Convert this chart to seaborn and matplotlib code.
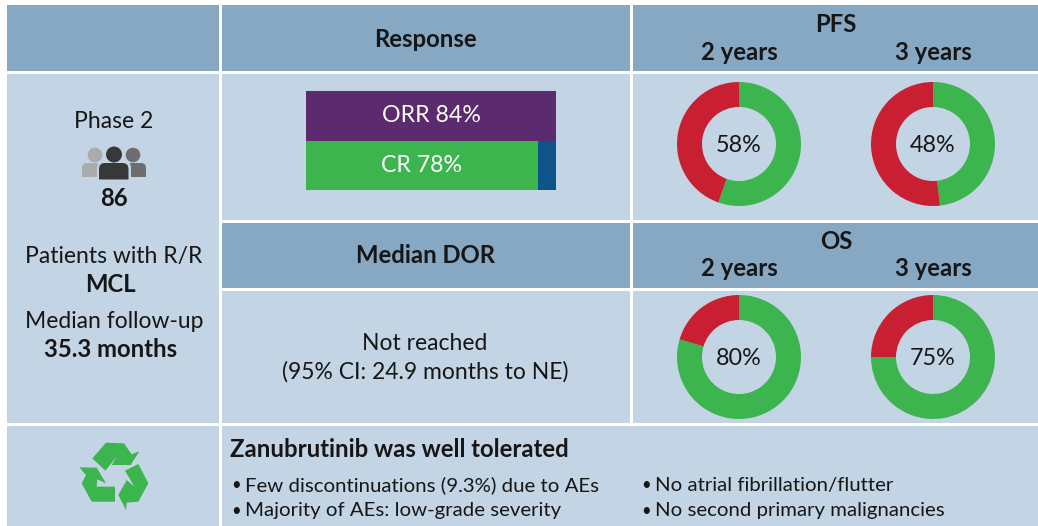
import matplotlib
matplotlib.use('Agg')
import matplotlib.pyplot as plt
import numpy as np
import pandas as pd
import seaborn as sns
from matplotlib.patches import Rectangle, Circle, PathPatch, Polygon
from matplotlib.path import Path

# donnees
response_labels = ['ORR', 'CR']
response_values = [84, 78]
year_labels = ['2 years', '3 years']
pfs_values = [58, 48]
pfs_arcs = [55.4, 48.2]  # l'arc du 58% est dessine plus court que son etiquette
os_values = [80, 75]
os_arcs = [79.6, 75]
left_lines = ['Phase 2', '86', 'Patients with R/R', 'MCL', 'Median follow-up', '35.3 months']
bullets_left = ['Few discontinuations (9.3%) due to AEs', 'Majority of AEs: low-grade severity']
bullets_right = ['No atrial fibrillation/flutter', 'No second primary malignancies']

HEAD = '#86A8C3'
BODY = '#C3D5E4'
GREEN = '#3CB54E'
RED = '#C81F32'
PURPLE = '#5C2A6E'
BLUE = '#0F5488'
INK = '#161616'

W, H = 1038, 526

sns.set_theme(style='white')
plt.rcParams['font.family'] = ['Lato', 'DejaVu Sans']

fig = plt.figure(figsize=(W / 100, H / 100), dpi=100, facecolor='white')

# calque en pixels pour les cellules et le texte
bg = fig.add_axes([0, 0, 1, 1])
bg.set_xlim(0, W)
bg.set_ylim(H, 0)
bg.axis('off')

cells = [
    (7, 5, 219, 71, HEAD), (222, 5, 630, 71, HEAD), (633, 5, 1038, 71, HEAD),
    (7, 74, 219, 423, BODY), (222, 74, 630, 220, BODY), (633, 74, 1038, 220, BODY),
    (222, 223, 630, 288, HEAD), (633, 223, 1038, 288, HEAD),
    (222, 291, 630, 423, BODY), (633, 291, 1038, 423, BODY),
    (7, 426, 219, 526, BODY), (222, 426, 1038, 526, BODY),
]
for x0, y0, x1, y1, c in cells:
    bg.add_patch(Rectangle((x0, y0), x1 - x0, y1 - y0, fc=c, ec='none'))


def txt(x, y, s, size=16.5, weight='normal', ha='center', color=INK):
    bg.text(x, y + 1.5, s, fontsize=size, fontweight=weight, ha=ha, va='center', color=color)


BOLD = 17.2

# entetes
txt(425, 38, 'Response', size=BOLD, weight='bold')
txt(836, 23, 'PFS', size=BOLD, weight='bold')
txt(739, 51, year_labels[0], size=BOLD, weight='bold')
txt(933, 51, year_labels[1], size=BOLD, weight='bold')
txt(425, 254, 'Median DOR', size=BOLD, weight='bold')
txt(836, 240, 'OS', size=BOLD, weight='bold')
txt(739, 267, year_labels[0], size=BOLD, weight='bold')
txt(933, 267, year_labels[1], size=BOLD, weight='bold')

# colonne de gauche
txt(114, 120, left_lines[0])
txt(114, 197, left_lines[1], size=BOLD, weight='bold')
txt(114, 255, left_lines[2])
txt(110.5, 283, left_lines[3], size=BOLD, weight='bold')
txt(114, 320, left_lines[4])
txt(111, 348, left_lines[5], size=BOLD, weight='bold')


def body(x0, x1, y0, y1, r, c):
    # buste a coins superieurs arrondis, bas plat
    verts = [(x0, y1), (x0, y0 + r), (x0, y0), (x0 + r, y0), (x1 - r, y0), (x1, y0), (x1, y0 + r), (x1, y1), (x0, y1)]
    codes = [Path.MOVETO, Path.LINETO, Path.CURVE3, Path.CURVE3, Path.LINETO, Path.CURVE3, Path.CURVE3, Path.LINETO, Path.CLOSEPOLY]
    bg.add_patch(PathPatch(Path(verts, codes), fc=c, ec='none'))


# icone patients
for cx, bx0, bx1, c in [(95, 82, 108, '#ABABAB'), (133, 120, 146, '#6E6E6E')]:
    bg.add_patch(Circle((cx, 155), 7.3, fc=c, ec='none'))
    body(bx0, bx1, 163, 177, 5, c)
body(97, 131, 161, 180, 7, BODY)
bg.add_patch(Circle((114, 154.5), 9.5, fc=BODY, ec='none'))
bg.add_patch(Circle((114, 154.5), 8, fc='#383838', ec='none'))
body(99, 128.5, 163, 179.5, 6, '#383838')

# mediane DOR
txt(425, 342, 'Not reached')
txt(425, 370, '(95% CI: 24.9 months to NE)')

arrow_top = [(277, 115), (318, 68), (372, 70), (395, 103), (418, 94), (392, 135),
             (335, 135), (350, 110), (316, 152)]
arrow_right = [(375, 152), (415, 132), (445, 190), (415, 245), (380, 248), (378, 270),
               (355, 225), (380, 180), (403, 200)]
arrow_left = [(238, 142), (290, 143), (318, 190), (292, 178), (290, 200), (345, 200),
              (345, 245), (275, 245), (245, 190), (258, 165)]
for pts in [arrow_top, arrow_right, arrow_left]:
    xy = np.array(pts, dtype=float) / 3 + np.array([0, 420])
    bg.add_patch(Polygon(xy, closed=True, fc=GREEN, ec='none'))

# bas de page
txt(230, 448, 'Zanubrutinib was well tolerated', size=BOLD, weight='bold', ha='left')
for y, a, b in zip([484, 509], bullets_left, bullets_right):
    txt(231, y, '\u2022', size=12, ha='left')
    txt(245, y, a, size=14.7, ha='left')
    txt(641, y, '\u2022', size=12, ha='left')
    txt(655, y, b, size=14.7, ha='left')


def px_axes(x0, y0, x1, y1):
    return fig.add_axes([x0 / W, 1 - y1 / H, (x1 - x0) / W, (y1 - y0) / H])


# barres de reponse
ax = px_axes(306, 91, 556, 190)
df = pd.DataFrame({'label': response_labels, 'value': response_values})
sns.barplot(data=df.assign(value=max(response_values)), y='label', x='value', hue='label',
            palette=[PURPLE, BLUE], width=1, legend=False, ax=ax, saturation=1, linewidth=0)
sns.barplot(data=df.iloc[[1]], y='label', x='value', color=GREEN, width=1, ax=ax, saturation=1, linewidth=0)
ax.set_xlim(0, max(response_values))
ax.set_ylim(1.5, -0.5)
ax.axis('off')
for i, (lab, v) in enumerate(zip(response_labels, response_values)):
    ax.text(42 if i == 0 else 38.8, i, f'{lab} {v}%', color='white',
            fontsize=16.7, ha='center', va='center')


# anneaux
def donut(cx, cy, arc, value):
    r = 62
    a = px_axes(cx - r, cy - r, cx + r, cy + r)
    a.pie([arc, 100 - arc], colors=[GREEN, RED], startangle=90, counterclock=False,
          radius=1, wedgeprops={'width': 25 / 62, 'linewidth': 0})
    a.set_xlim(-1, 1)
    a.set_ylim(-1, 1)
    a.patch.set_alpha(0)
    a.text(0, -0.025, f'{value}%', fontsize=16.8, ha='center', va='center', color=INK)


for cx, arc, v in zip([739, 933], pfs_arcs, pfs_values):
    donut(cx, 144, arc, v)
for cx, arc, v in zip([739, 933], os_arcs, os_values):
    donut(cx, 357, arc, v)

fig.savefig('out.png', dpi=100)
